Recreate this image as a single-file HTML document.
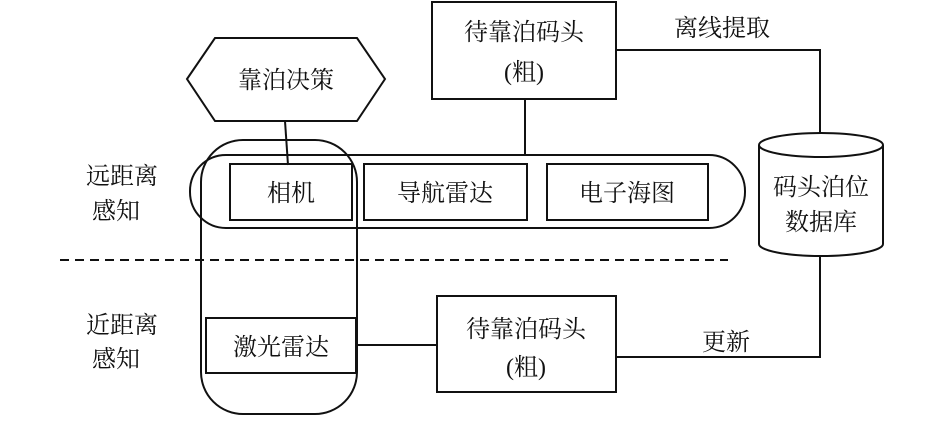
<!DOCTYPE html>
<html><head><meta charset="utf-8"><style>
html,body{margin:0;padding:0;background:#fff}
svg text{font-family:"Liberation Serif","Noto Serif CJK SC","Noto Sans CJK SC",serif;font-size:24px;fill:#111}
</style></head><body>
<svg width="945" height="421" viewBox="0 0 945 421" xmlns="http://www.w3.org/2000/svg">
<g fill="none" stroke="#111" stroke-width="2">
<rect x="432" y="2" width="184" height="97" fill="#fff"/>
<polygon points="187,79 215,38 357,38 385,79 357,121 215,121" fill="#fff"/>
<line x1="285" y1="121" x2="288" y2="165"/>
<line x1="525" y1="99" x2="525" y2="155"/>
<polyline points="616,50 820,50 820,134"/>
<rect x="190" y="155" width="555" height="73" rx="36"/>
<rect x="201" y="140" width="156" height="274" rx="42"/>
<rect x="230" y="164" width="122" height="56"/>
<rect x="364" y="164" width="163" height="56"/>
<rect x="547" y="164" width="161" height="56"/>
<path d="M759,145 L759,244 A62,12 0 0 0 883,244 L883,145"/>
<ellipse cx="821" cy="145" rx="62" ry="12"/>
<polyline points="820,256 820,357 616,357"/>
<rect x="437" y="296" width="179" height="96"/>
<rect x="206" y="318" width="150" height="55"/>
<line x1="356" y1="345" x2="437" y2="345"/>
<line x1="60" y1="260" x2="728" y2="260" stroke-dasharray="9,6"/>
</g>
<g text-anchor="middle">
<text x="524" y="40">待靠泊码头</text>
<text x="524" y="80">(粗)</text>
<text x="286" y="88">靠泊决策</text>
<text x="722" y="36">离线提取</text>
<text x="291" y="201">相机</text>
<text x="445" y="201">导航雷达</text>
<text x="627" y="201">电子海图</text>
<text x="821" y="195">码头泊位</text>
<text x="821" y="230">数据库</text>
<text x="122" y="184">远距离</text>
<text x="116" y="219">感知</text>
<text x="122" y="333">近距离</text>
<text x="116" y="367">感知</text>
<text x="281" y="355">激光雷达</text>
<text x="526" y="337">待靠泊码头</text>
<text x="526" y="375">(粗)</text>
<text x="726" y="350">更新</text>
</g>
</svg>
</body></html>
